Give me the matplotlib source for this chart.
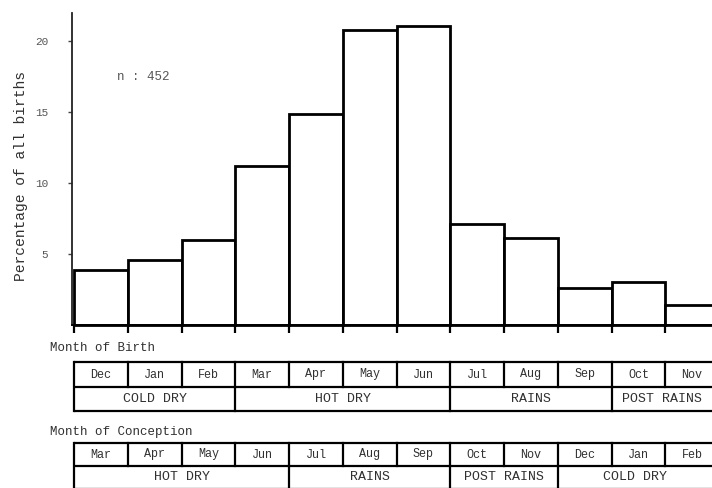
import matplotlib
matplotlib.use("Agg")
import matplotlib.pyplot as plt

birth_months = ['Dec', 'Jan', 'Feb', 'Mar', 'Apr', 'May', 'Jun', 'Jul', 'Aug', 'Sep', 'Oct', 'Nov']
pct_births = [3.9, 4.6, 6.0, 11.2, 14.9, 20.8, 21.1, 7.1, 6.1, 2.6, 3.0, 1.4]
conception_months = ['Mar', 'Apr', 'May', 'Jun', 'Jul', 'Aug', 'Sep', 'Oct', 'Nov', 'Dec', 'Jan', 'Feb']
birth_seasons = [('COLD DRY', 0, 3), ('HOT DRY', 3, 7), ('RAINS', 7, 10), ('POST RAINS', 10, 12)]
conception_seasons = [('HOT DRY', 0, 4), ('RAINS', 4, 7), ('POST RAINS', 7, 9), ('COLD DRY', 9, 12)]
y_ticks = [5, 10, 15, 20]
n_label = 'n : 452'

W, H = 712, 488
fig = plt.figure(figsize=(W / 100, H / 100), dpi=100)
mono = 'Liberation Mono'
tcol = '#303030'

x0, x1 = -0.04, 11.87
left = 72 / W
ax = fig.add_axes([left, (H - 325) / H, 1 - left, (325 - 13) / H])
xs = list(range(len(pct_births)))
ax.bar(xs, pct_births, width=1, align='edge', facecolor='white',
       edgecolor='black', linewidth=2.0, clip_on=False)
ax.set_xlim(x0, x1)
ax.set_ylim(0, 22)
for s in ['top', 'right']:
    ax.spines[s].set_visible(False)
ax.spines['left'].set_linewidth(1.3)
ax.spines['left'].set_color('#222222')
ax.spines['bottom'].set_linewidth(1.3)
ax.set_xticks(range(0, 12))
ax.set_xticklabels([])
ax.tick_params(axis='x', direction='out', length=6, width=1.6, color='black')
ax.set_yticks(y_ticks)
ax.set_yticklabels([str(t) for t in y_ticks], fontfamily=mono, fontsize=8, color='#555555')
ax.tick_params(axis='y', direction='out', length=3, width=1, color='#444444', pad=14)
ax.set_ylabel('Percentage of all births', fontfamily=mono, fontsize=10.5, color=tcol)
ax.yaxis.set_label_coords(-0.068, 0.478)
ax.text(0.8, 17.5, n_label, fontfamily=mono, fontsize=9, color='#555555', va='center', ha='left')

# table area, y in pixel units (top-down)
tab = fig.add_axes([left, 0, 1 - left, (H - 337) / H])
tab.set_xlim(x0, x1)
tab.set_ylim(H, 337)
tab.axis('off')

lw = 1.6

def draw_table(months, seasons, top, mid, bot, title, title_y):
    tab.text(-0.45, title_y, title, fontfamily=mono, fontsize=9, color=tcol,
             va='center', ha='left', clip_on=False)
    n = len(months)
    for yy in (top, mid, bot):
        tab.plot([0, n], [yy, yy], color='black', lw=lw, solid_capstyle='butt')
    tab.plot([0, 0], [top, bot], color='black', lw=lw)
    for i, m in enumerate(months):
        if i > 0:
            tab.plot([i, i], [top, mid], color='black', lw=lw)
        tab.text(i + 0.5, (top + mid) / 2, m, fontfamily=mono, fontsize=8.5,
                 color=tcol, ha='center', va='center')
    for name, a, b in seasons:
        if a > 0:
            tab.plot([a, a], [mid, bot], color='black', lw=lw)
        cx = (a + min(b, x1)) / 2
        tab.text(cx, (mid + bot) / 2, name,
                 fontfamily=mono, fontsize=9.5, color=tcol, ha='center', va='center')

draw_table(birth_months, birth_seasons, 362, 387, 411, 'Month of Birth', 348)
draw_table(conception_months, conception_seasons, 443, 466, 489, 'Month of Conception', 432)

fig.savefig('out.png', dpi=100)
